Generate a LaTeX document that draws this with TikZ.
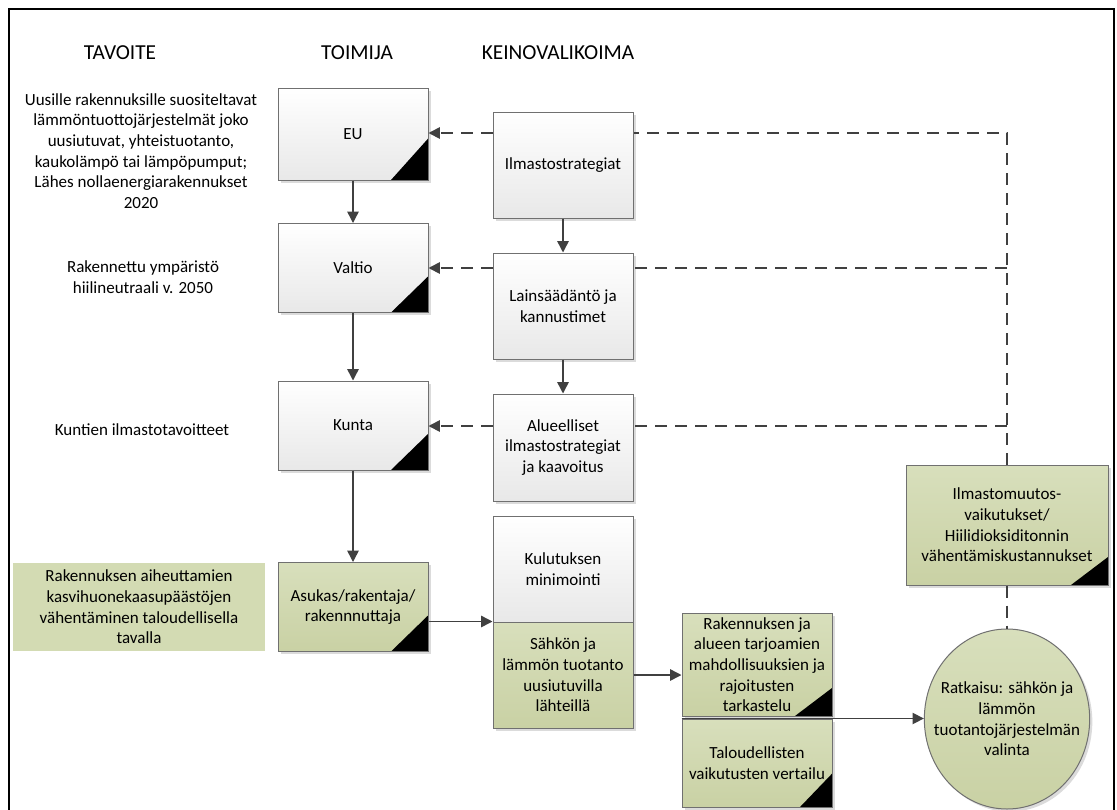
\documentclass[tikz,border=0pt]{standalone}
\usepackage{fontspec}
\setmainfont{Carlito}
\usepackage{tikz}
\usetikzlibrary{arrows.meta}
\usetikzlibrary{shadows}
\usetikzlibrary{shapes.geometric}
\definecolor{boxline}{HTML}{707070}
\definecolor{linegray}{HTML}{404040}
\definecolor{greentop}{HTML}{D8DFBC}
\definecolor{greenbot}{HTML}{C9D1A4}
\definecolor{greenflat}{HTML}{D3DBB3}
\tikzset{txt/.style = {align = center, font = \fontsize{12.75}{15.5}\selectfont}}
\tikzset{head/.style = {font = \fontsize{16}{19}\selectfont}}
\tikzset{box/.style = {txt, draw = boxline, line width = 0.75pt, inner sep = 2pt,
  drop shadow = {shadow xshift = 2pt, shadow yshift = -2pt, fill = black!14, opacity = 1}}}
\tikzset{graybox/.style = {box, rectangle, top color = white, bottom color = black!9}}
\tikzset{greenbox/.style = {box, rectangle, top color = greentop, bottom color = greenbot}}
\tikzset{toimija/.style = {minimum width = 112.5pt, minimum height = 66.75pt}}
\tikzset{keino/.style = {minimum width = 105pt, minimum height = 79.5pt}}
\tikzset{blackcorner/.style 2 args = {path picture = {\fill [black] (path picture bounding box.south east) -- ++(-#1, 0pt) -- ++(#1, #2) -- cycle;}}}
\tikzset{arrow/.style = {draw = linegray, line width = 1.1pt, -{Triangle[length = 8.5pt, width = 8.5pt]}}}
\tikzset{dashline/.style = {draw = linegray, line width = 1.3pt, dash pattern = on 9pt off 6pt}}
\tikzset{dasharrow/.style = {dashline, -{Triangle[length = 8.5pt, width = 8.5pt]}}}

\begin{document}
\begin{tikzpicture}[x = 0.75pt, y = -0.75pt]

  \useasboundingbox (0, 0) rectangle (1117, 810);
  \draw [line width = 1.5pt] (9, 810) -- (9, 9) -- (1114, 9) -- (1114, 810);

  \node [head] (h0) at (120, 53) {TAVOITE};
  \node [head] (h1) at (357, 53) {TOIMIJA};
  \node [head] (h2) at (558, 53) {KEINOVALIKOIMA};

  \node [txt] (t0) at (141, 151) {Uusille rakennuksille suositeltavat\\lämmöntuottojärjestelmät joko\\uusiutuvat, yhteistuotanto,\\kaukolämpö tai lämpöpumput;\\Lähes nollaenergiarakennukset\\2020};
  \node [txt] (t1) at (143, 277) {Rakennettu ympäristö\\hiilineutraali v. 2050};
  \node [txt] (t2) at (142, 430) {Kuntien ilmastotavoitteet};
  \node [txt, fill = greenflat, minimum width = 189pt, minimum height = 66pt] (t3) at (139, 607) {Rakennuksen aiheuttamien\\kasvihuonekaasupäästöjen\\vähentäminen taloudellisella\\tavalla};

  \node [graybox, toimija, minimum height = 69pt, blackcorner = {27.75pt}{31pt}] (0) at (353, 134) {EU};
  \node [graybox, toimija, blackcorner = {27.75pt}{27pt}] (1) at (353, 268) {Valtio};
  \node [graybox, toimija, blackcorner = {27.75pt}{27pt}] (2) at (353, 425.5) {Kunta};
  \node [greenbox, toimija, blackcorner = {27.75pt}{27pt}] (3) at (353, 607) {Asukas/rakentaja/\\rakennnuttaja};

  \node [graybox, keino] (4) at (563, 165) {Ilmastostrategiat};
  \node [graybox, keino] (5) at (563, 306) {Lainsäädäntö ja\\kannustimet};
  \node [graybox, keino, minimum height = 80.25pt] (6) at (563, 447.5) {Alueelliset\\ilmastostrategiat\\ja kaavoitus};
  \node [graybox, keino] (7) at (563, 569) {Kulutuksen\\minimointi};
  \node [greenbox, keino] (8) at (563, 675) {Sähkön ja\\lämmön tuotanto\\uusiutuvilla\\lähteillä};

  \node [greenbox, minimum width = 112.5pt, minimum height = 77.25pt, blackcorner = {27.75pt}{21pt}] (9) at (757, 664.5) {Rakennuksen ja\\alueen tarjoamien\\mahdollisuuksien ja\\rajoitusten\\tarkastelu};
  \node [greenbox, minimum width = 112.5pt, minimum height = 66pt, blackcorner = {24pt}{25pt}] (10) at (757, 763) {Taloudellisten\\vaikutusten vertailu};

  \node [greenbox, minimum width = 151.5pt, minimum height = 90pt, blackcorner = {27.75pt}{21pt}] (11) at (1007, 525) {Ilmastomuutos-\\vaikutukset/\\Hiilidioksiditonnin\\vähentämiskustannukset};
  \node [box, ellipse, top color = greentop, bottom color = greenbot, inner sep = 0pt, minimum width = 124pt, minimum height = 135pt,
    label = {[txt]center:{Ratkaisu: sähkön ja\\lämmön\\tuotantojärjestelmän\\valinta}}] (12) at (1007, 719) {};

  \coordinate (d0) at (1007, 133);
  \coordinate (d1) at (1007, 268);
  \coordinate (d2) at (1007, 426);

  \draw [arrow] (0) -- (1);
  \draw [arrow] (1) -- (2);
  \draw [arrow] (2) -- (3);
  \draw [arrow] (4) -- (5);
  \draw [arrow] (5) -- (6);
  \draw [arrow] (3.east |- 8.north west) -- (8.north west);
  \draw [arrow] (8.east) -- (8.east -| 9.west);
  \draw [arrow] (10.north west) -- (10.north west -| 12.west);

  \draw [dashline] (11.north) -- (d2) -- (d1) -- (d0) -- (d0 -| 4.east);
  \draw [dashline] (d1) -- (d1 -| 5.east);
  \draw [dashline] (d2) -- (d2 -| 6.east);
  \draw [dasharrow] (d0 -| 4.west) -- (d0 -| 0.east);
  \draw [dasharrow] (d1 -| 5.west) -- (d1 -| 1.east);
  \draw [dasharrow] (d2 -| 6.west) -- (d2 -| 2.east);
  \draw [dashline] (11) -- (12);

\end{tikzpicture}
\end{document}
